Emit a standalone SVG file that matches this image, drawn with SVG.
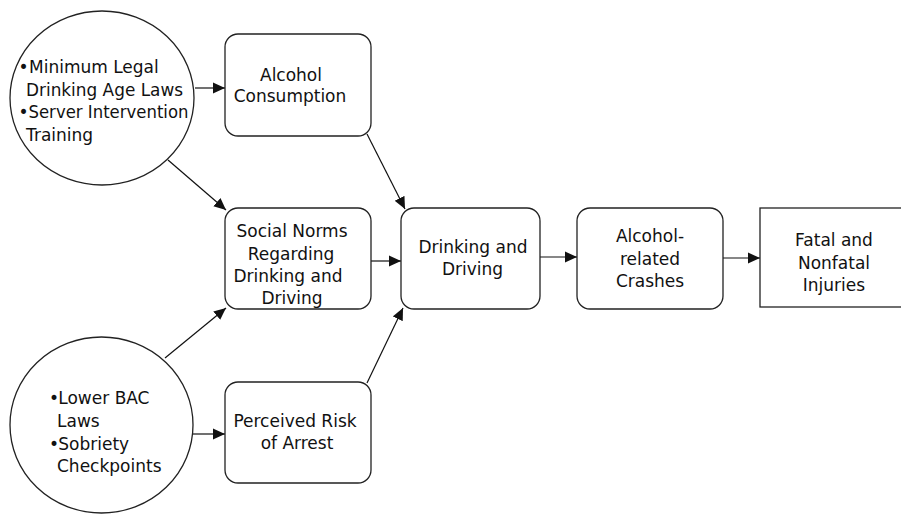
<svg xmlns="http://www.w3.org/2000/svg" width="901" height="516" viewBox="0 0 901 516">
<style>
  .node { fill: #ffffff; stroke: #222222; stroke-width: 1.3; }
  .lbl { font-family: "DejaVu Sans", Verdana, sans-serif; font-size: 17px; fill: #111111; }
  .c { text-anchor: middle; }
  .edge { stroke: #111111; stroke-width: 1.2; fill: none; marker-end: url(#arr); }
</style>
<defs>
  <marker id="arr" markerUnits="userSpaceOnUse" markerWidth="12" markerHeight="12" refX="11" refY="5" orient="auto" viewBox="0 0 11 10">
    <path d="M0,0 L11,5 L0,10 z" fill="#111111"/>
  </marker>
</defs>
<rect x="0" y="0" width="901" height="516" fill="#ffffff"/>

<g id="connectors">
  <line class="edge" x1="195" y1="88" x2="225" y2="88"/>
  <line class="edge" x1="168" y1="160" x2="226" y2="210"/>
  <line class="edge" x1="367" y1="134" x2="405" y2="209"/>
  <line class="edge" x1="371" y1="261" x2="401" y2="261"/>
  <line class="edge" x1="165" y1="358" x2="226" y2="308"/>
  <line class="edge" x1="193" y1="434" x2="225" y2="434"/>
  <line class="edge" x1="367" y1="383" x2="403" y2="308"/>
  <line class="edge" x1="540" y1="257" x2="577" y2="257"/>
  <line class="edge" x1="723" y1="258" x2="760" y2="258"/>
</g>

<g id="policies-top">
  <ellipse class="node" cx="102" cy="98" rx="92" ry="87"/>
  <text class="lbl"><tspan x="18.5" y="73">•</tspan><tspan x="29" y="73">Minimum Legal</tspan></text>
  <text class="lbl" x="26" y="95.5" textLength="157" lengthAdjust="spacingAndGlyphs">Drinking Age Laws</text>
  <text class="lbl"><tspan x="18.5" y="118">•</tspan><tspan x="28.5" y="118" textLength="160" lengthAdjust="spacingAndGlyphs">Server Intervention</tspan></text>
  <text class="lbl" x="26" y="140.5">Training</text>
</g>

<g id="policies-bottom">
  <ellipse class="node" cx="101.5" cy="425" rx="91.5" ry="88"/>
  <text class="lbl"><tspan x="49" y="404">•</tspan><tspan x="58.3" y="404">Lower BAC</tspan></text>
  <text class="lbl" x="57" y="427">Laws</text>
  <text class="lbl"><tspan x="49" y="450">•</tspan><tspan x="58.3" y="450">Sobriety</tspan></text>
  <text class="lbl" x="57" y="472">Checkpoints</text>
</g>

<g id="alcohol-consumption">
  <rect class="node" x="225" y="34" width="146" height="102" rx="13" ry="13"/>
  <text class="lbl c" x="291" y="80.5">Alcohol</text>
  <text class="lbl c" x="290" y="102">Consumption</text>
</g>

<g id="social-norms">
  <rect class="node" x="225" y="208" width="146" height="101" rx="13" ry="13"/>
  <text class="lbl c" x="292" y="237">Social Norms</text>
  <text class="lbl c" x="291" y="259.5">Regarding</text>
  <text class="lbl c" x="288" y="282">Drinking and</text>
  <text class="lbl c" x="292" y="304">Driving</text>
</g>

<g id="perceived-risk">
  <rect class="node" x="225" y="382" width="146" height="101" rx="13" ry="13"/>
  <text class="lbl c" x="295" y="427">Perceived Risk</text>
  <text class="lbl c" x="297" y="449">of Arrest</text>
</g>

<g id="drinking-driving">
  <rect class="node" x="401" y="208" width="139" height="101" rx="13" ry="13"/>
  <text class="lbl c" x="473" y="252.5">Drinking and</text>
  <text class="lbl c" x="472.5" y="275">Driving</text>
</g>

<g id="crashes">
  <rect class="node" x="577" y="208" width="146" height="101" rx="13" ry="13"/>
  <text class="lbl c" x="650" y="242">Alcohol-</text>
  <text class="lbl c" x="650" y="264.5">related</text>
  <text class="lbl c" x="650" y="287">Crashes</text>
</g>

<g id="injuries">
  <rect class="node" x="760" y="208" width="150" height="99"/>
  <text class="lbl c" x="834" y="246">Fatal and</text>
  <text class="lbl c" x="834" y="268.5">Nonfatal</text>
  <text class="lbl c" x="834" y="291">Injuries</text>
</g>
</svg>
